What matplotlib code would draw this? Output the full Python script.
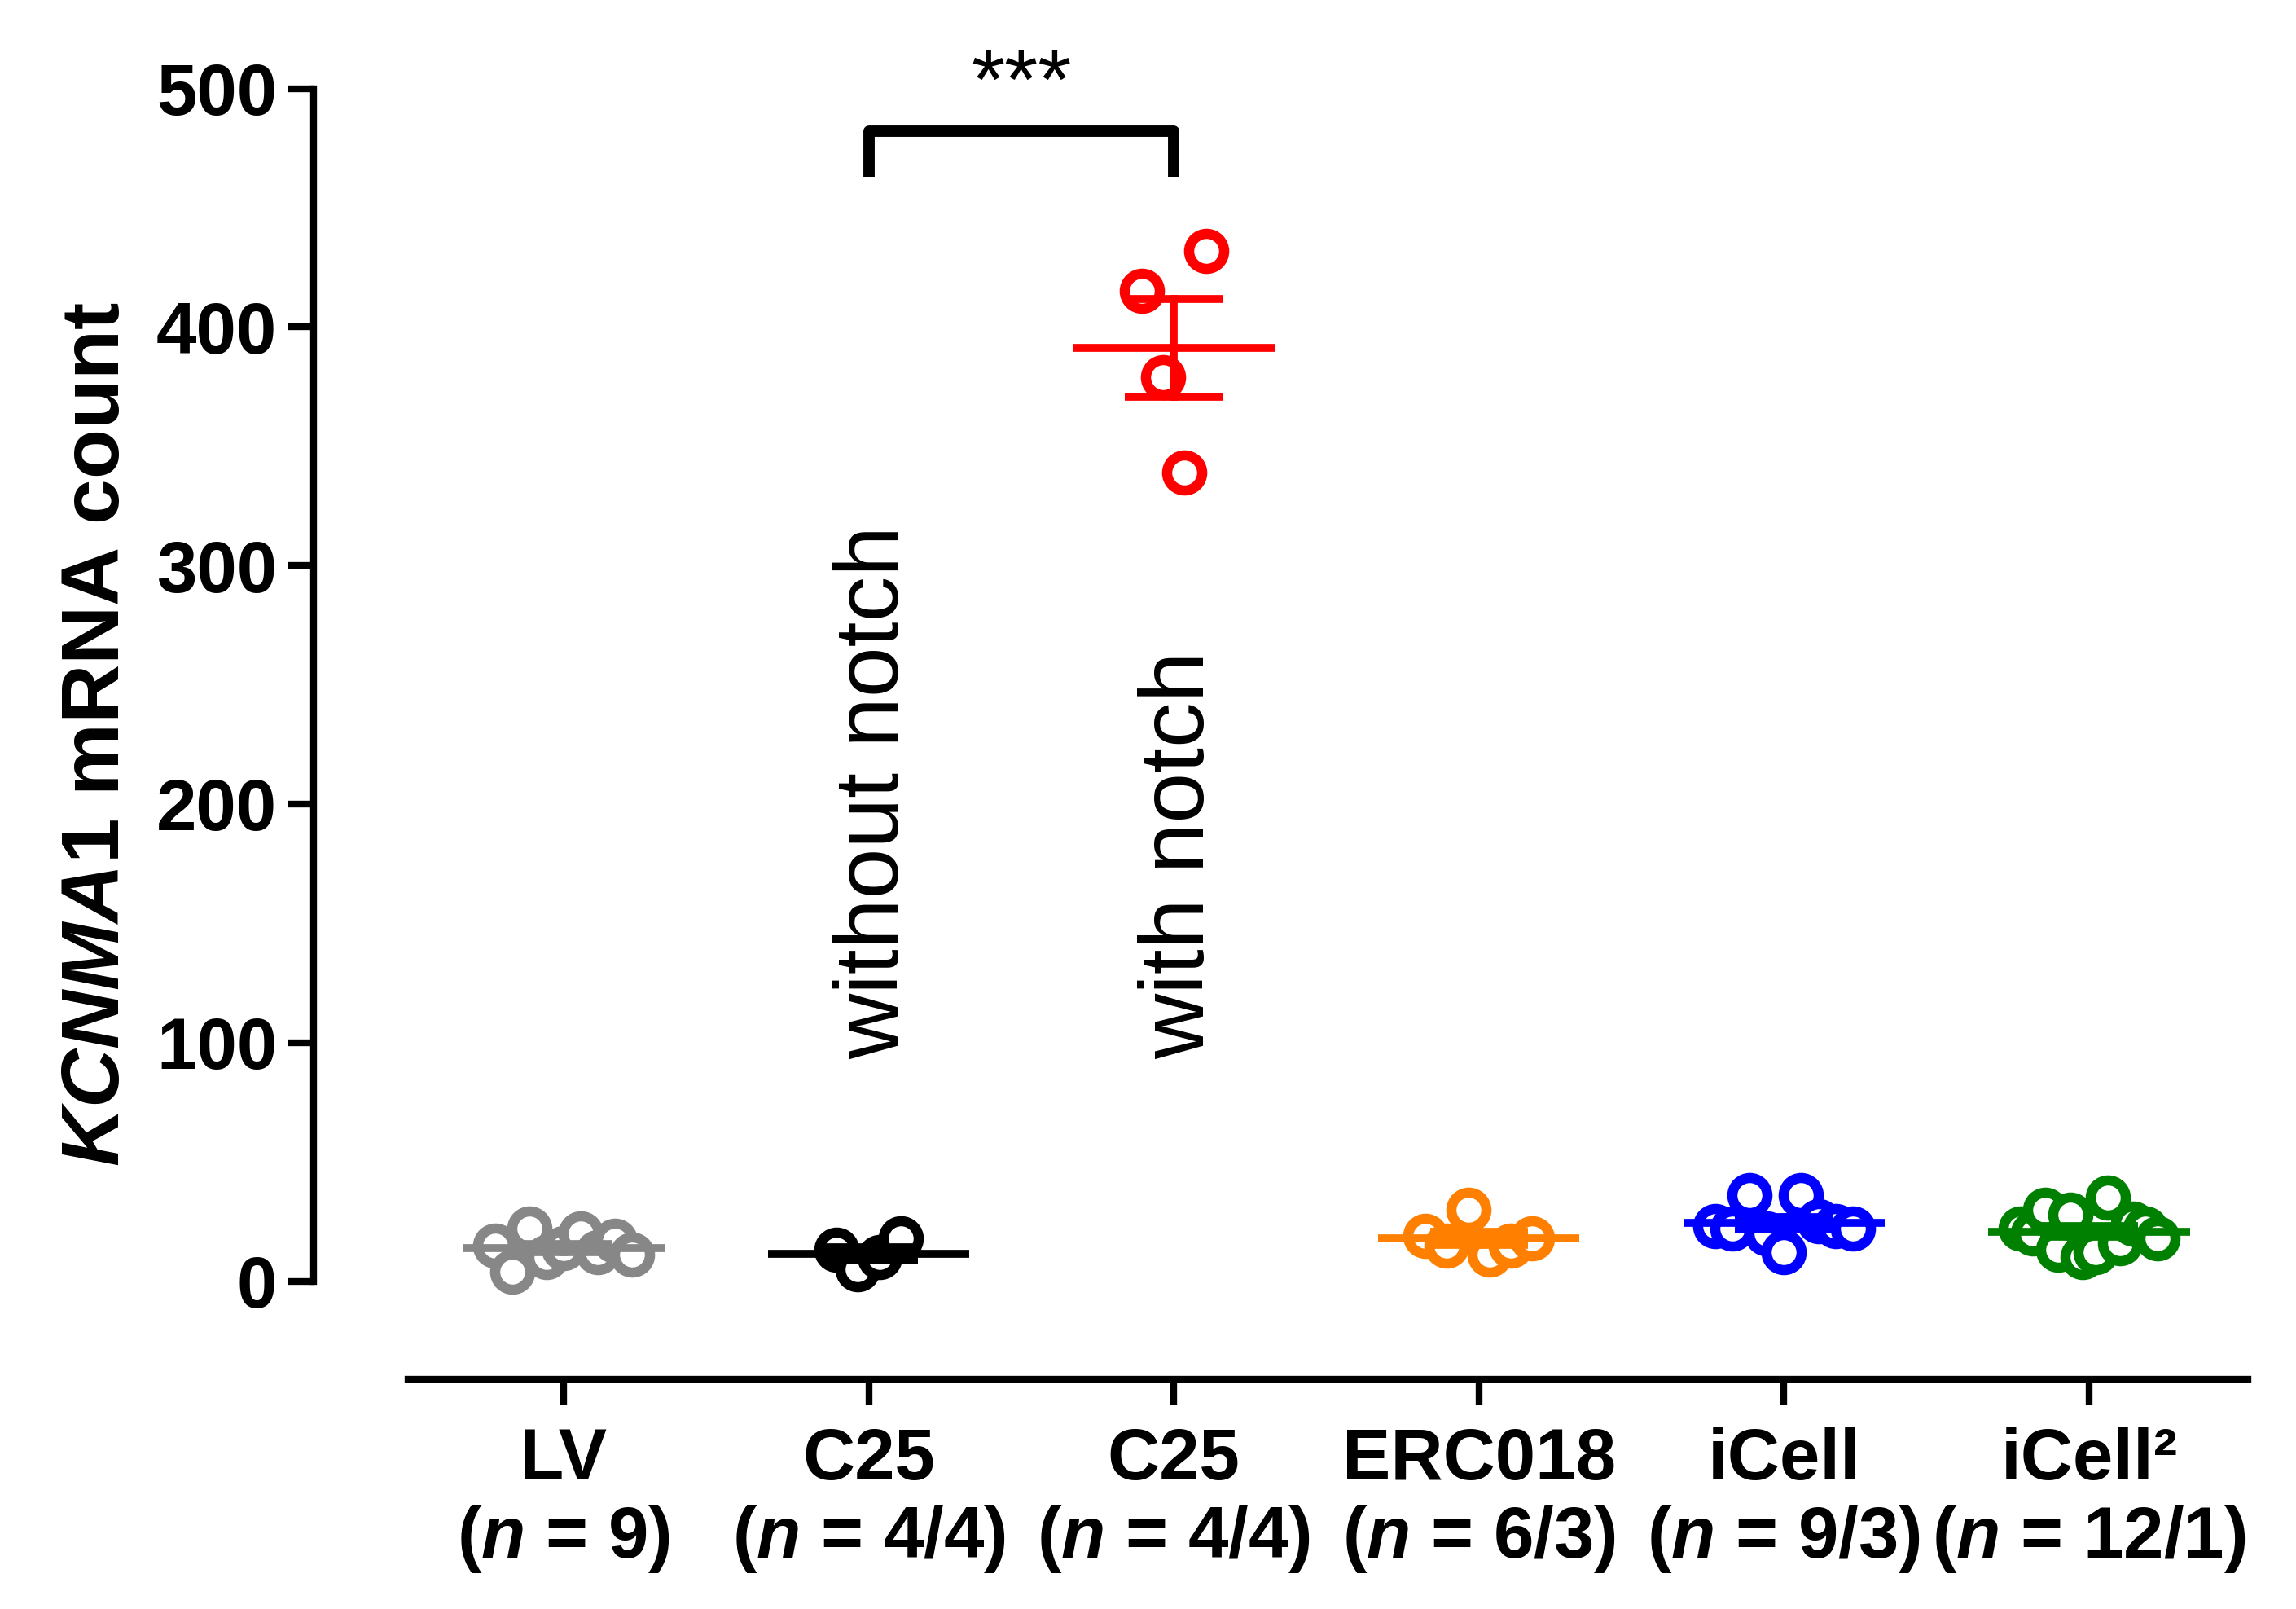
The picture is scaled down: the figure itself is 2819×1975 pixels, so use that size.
import numpy as np
import matplotlib.pyplot as plt

plt.rcParams['font.family'] = ['Liberation Sans', 'DejaVu Sans']
plt.rcParams['mathtext.fontset'] = 'custom'
plt.rcParams['mathtext.it'] = 'Liberation Sans:bold:italic'
plt.rcParams['mathtext.rm'] = 'Liberation Sans:bold'
plt.rcParams['mathtext.bf'] = 'Liberation Sans:bold'

groups = ['LV\n($\\it{n}$ = 9)', 'C25\n($\\it{n}$ = 4/4)', 'C25\n($\\it{n}$ = 4/4)',
          'ERC018\n($\\it{n}$ = 6/3)', 'iCell\n($\\it{n}$ = 9/3)', 'iCell²\n($\\it{n}$ = 12/1)']
colors = ['#878787', 'black', '#ff0000', '#ff8000', '#0000ff', '#008000']
values = [
    [15, 4, 22, 10, 14, 20, 12, 17, 11],
    [13, 5, 10, 18],
    [415, 379, 339, 432],
    [19, 15, 30, 11, 15, 18],
    [23, 22, 36, 20, 12, 36, 25, 23, 22],
    [22, 20, 30, 13, 28, 10, 12, 35, 16, 24, 22, 18],
]

fig = plt.figure(figsize=(28.19, 19.75), dpi=100)
ax = fig.add_axes([0.1365, 0.143, 0.8425, 0.802])

for i, (vals, c) in enumerate(zip(values, colors)):
    vals = np.array(vals, dtype=float)
    n = len(vals)
    width = min(0.07 * (n - 1), 0.45)
    offs = np.linspace(-width / 2, width / 2, n)
    ax.scatter(i + offs, vals, s=31 ** 2, facecolors='white', edgecolors=c,
               linewidths=9, zorder=3)
    m = vals.mean()
    sem = vals.std(ddof=1) / np.sqrt(n)
    ax.plot([i - 0.33, i + 0.33], [m, m], color=c, lw=7, zorder=4, solid_capstyle='butt')
    for y in (m - sem, m + sem):
        ax.plot([i - 0.16, i + 0.16], [y, y], color=c, lw=7, zorder=4, solid_capstyle='butt')
    ax.plot([i, i], [m - sem, m + sem], color=c, lw=7, zorder=4)

# significance bracket
ax.plot([1, 1, 2, 2], [463, 482, 482, 463], color='black', lw=10, solid_capstyle='butt')
ax.text(1.5, 484, '***', ha='center', va='bottom', fontsize=76)

ax.text(1.02, 93, 'without notch', rotation=90, ha='center', va='bottom', fontsize=80)
ax.text(2.02, 93, 'with notch', rotation=90, ha='center', va='bottom', fontsize=80)

ax.set_xlim(-0.82, 5.52)
ax.set_ylim(-41, 500)
ax.spines['top'].set_visible(False)
ax.spines['right'].set_visible(False)
ax.spines['left'].set_bounds(0, 500)
ax.spines['bottom'].set_bounds(-0.51, 5.52)
ax.spines['left'].set_linewidth(6)
ax.spines['bottom'].set_linewidth(6)
ax.set_yticks([0, 100, 200, 300, 400, 500])
ax.set_xticks(range(len(groups)))
ax.set_xticklabels(groups, fontweight='bold', fontsize=64, linespacing=1.15)
ax.tick_params(axis='y', width=6, length=22, labelsize=64, pad=10)
ax.tick_params(axis='x', width=6, length=22, pad=20)
for lab in ax.get_yticklabels():
    lab.set_fontweight('bold')
ax.set_ylabel('$\\it{KCNMA1}$ mRNA count', fontweight='bold', fontsize=72, labelpad=18)

fig.savefig('out.png', dpi=100)
